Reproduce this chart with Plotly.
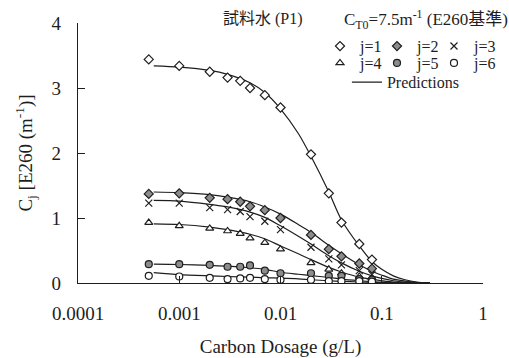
import plotly.graph_objects as go

# ---------------- data ----------------
dosage = [0.0005, 0.001, 0.002, 0.003, 0.004, 0.005, 0.007, 0.01, 0.02, 0.03, 0.04, 0.06, 0.08]
obs_j1 = [3.44, 3.34, 3.25, 3.16, 3.11, 3.00, 2.89, 2.70, 1.98, 1.38, 0.93, 0.60, 0.36]
obs_j2 = [1.37, 1.38, 1.31, 1.29, 1.25, 1.18, 1.12, 1.00, 0.74, 0.52, 0.41, 0.30, 0.22]
obs_j3 = [1.23, 1.23, 1.16, 1.13, 1.10, 1.02, 0.95, 0.82, 0.55, 0.37, 0.28, 0.19, 0.13]
obs_j4 = [0.93, 0.88, 0.84, 0.80, 0.76, 0.69, 0.62, 0.52, 0.31, 0.21, 0.15, 0.10, 0.07]
obs_j5 = [0.29, 0.29, 0.28, 0.25, 0.25, 0.27, 0.19, 0.15, 0.15, 0.11, 0.11, 0.06, 0.05]
obs_j6 = [0.11, 0.10, 0.08, 0.06, 0.07, 0.08, 0.06, 0.05, 0.05, 0.03, 0.03, 0.03, 0.02]

pred_dosage = [0.00056, 0.001, 0.002, 0.003, 0.005, 0.007, 0.01, 0.015, 0.02, 0.03, 0.04,
               0.06, 0.08, 0.1, 0.13, 0.17, 0.22, 0.3]
pred_j1 = [3.34, 3.32, 3.27, 3.21, 3.08, 2.93, 2.68, 2.30, 1.95, 1.40, 0.97, 0.57, 0.33, 0.21, 0.11, 0.05, 0.015, 0.0]
pred_j2 = [1.40, 1.39, 1.36, 1.32, 1.25, 1.17, 1.06, 0.90, 0.78, 0.58, 0.45, 0.28, 0.18, 0.12, 0.06, 0.03, 0.01, 0.0]
pred_j3 = [1.27, 1.26, 1.21, 1.17, 1.09, 1.01, 0.88, 0.72, 0.60, 0.42, 0.31, 0.18, 0.11, 0.07, 0.035, 0.015, 0.005, 0.0]
pred_j4 = [0.91, 0.90, 0.86, 0.82, 0.75, 0.68, 0.57, 0.45, 0.36, 0.24, 0.17, 0.09, 0.055, 0.035, 0.015, 0.007, 0.002, 0.0]
pred_j5 = [0.29, 0.285, 0.27, 0.26, 0.235, 0.21, 0.165, 0.135, 0.115, 0.085, 0.06, 0.035, 0.02, 0.013, 0.006, 0.002, 0.001, 0.0]
pred_j6 = [0.16, 0.13, 0.11, 0.10, 0.09, 0.08, 0.075, 0.065, 0.05, 0.035, 0.025, 0.015, 0.01, 0.006, 0.003, 0.001, 0.0, 0.0]

series_names = ["j=1", "j=2", "j=3", "j=4", "j=5", "j=6"]
x_tickvals = [0.0001, 0.001, 0.01, 0.1, 1]
x_ticktext = ["0.0001", "0.001", "0.01", "0.1", "1"]
y_tickvals = [0, 1, 2, 3, 4]

# ---------------- style ----------------
INK = "#1e1e1e"
GRAY = "#8c8c8c"
FONT = "'Liberation Serif', 'Times New Roman', 'Noto Sans CJK JP', serif"

obs = [obs_j1, obs_j2, obs_j3, obs_j4, obs_j5, obs_j6]
preds = [pred_j1, pred_j2, pred_j3, pred_j4, pred_j5, pred_j6]
symbols = ["diamond", "diamond", "x-thin", "triangle-up", "circle", "circle"]
fills = ["white", GRAY, INK, "white", GRAY, "white"]
legend_ids = ["legend", "legend", "legend", "legend2", "legend2", "legend2"]
legend_w = [None, None, 27, None, None, 27]

fig = go.Figure()

for i, p in enumerate(preds):
    fig.add_trace(go.Scatter(
        x=pred_dosage, y=p, mode="lines",
        line=dict(color=INK, width=1.2, shape="spline", smoothing=0.8),
        name="Predictions", showlegend=(i == 0), legend="legend3",
        legendwidth=82, hoverinfo="skip"))

for i, o in enumerate(obs):
    tr = go.Scatter(
        x=dosage, y=o, mode="markers", name=series_names[i], legend=legend_ids[i],
        marker=dict(symbol=symbols[i], size=7, color=fills[i],
                    line=dict(color=INK, width=1.2)))
    if legend_w[i]:
        tr.legendwidth = legend_w[i]
    fig.add_trace(tr)

leg_common = dict(orientation="h", entrywidth=12, entrywidthmode="pixels",
                  font=dict(family=FONT, size=16, color=INK), bgcolor="rgba(0,0,0,0)",
                  borderwidth=0, xanchor="left", yanchor="middle", itemwidth=30,
                  tracegroupgap=0)

fig.update_layout(
    width=509, height=358,
    margin=dict(l=78, r=26, t=23, b=75, autoexpand=False),
    paper_bgcolor="white", plot_bgcolor="white",
    font=dict(family=FONT, size=19, color=INK),
    xaxis=dict(type="log", range=[-4, 0], tickvals=x_tickvals, ticktext=x_ticktext,
               ticks="inside", ticklen=7, tickwidth=1.3, tickcolor=INK,
               showline=True, linecolor=INK, linewidth=1.3, showgrid=False, zeroline=False,
               ticklabelstandoff=13, tickfont=dict(size=19), automargin=False,
               title=dict(text="Carbon Dosage (g/L)", font=dict(size=19), standoff=24)),
    yaxis=dict(range=[0, 4], tickvals=y_tickvals,
               ticks="inside", ticklen=7, tickwidth=1.3, tickcolor=INK,
               showline=True, linecolor=INK, linewidth=1.3, showgrid=False, zeroline=False,
               ticklabelstandoff=12, tickfont=dict(size=19), automargin=False,
               title=dict(text="C<sub>j</sub> [E260 (m<sup>-1</sup>)]", font=dict(size=19), standoff=13)),
    legend=dict(x=0.5975, y=0.911, **leg_common),
    legend2=dict(x=0.5975, y=0.846, **leg_common),
    legend3=dict(x=0.664, y=0.772, **leg_common),
    annotations=[
        dict(text="試料水 (P1)", xref="paper", yref="paper", x=0.56, y=1.015,
             xanchor="right", yanchor="middle", showarrow=False,
             font=dict(family=FONT, size=16, color=INK)),
        dict(text="C<sub>T0</sub>=7.5m<sup>-1</sup> (E260基準)", xref="paper", yref="paper",
             x=0.652, y=1.015, xanchor="left", yanchor="middle", showarrow=False,
             font=dict(family=FONT, size=17, color=INK)),
    ],
    showlegend=True,
)

fig.write_html("out.html")
